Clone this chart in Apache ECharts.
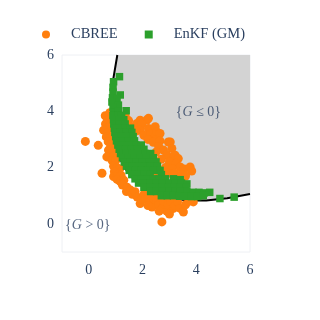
<!DOCTYPE html>
<html>
<head>
<meta charset="utf-8">
<script src="https://cdn.jsdelivr.net/npm/echarts@6/dist/echarts.min.js"></script>
<style>
  html, body { margin: 0; padding: 0; background: #fff; }
  #chart { width: 320px; height: 320px; }
</style>
</head>
<body>
<div id="chart"></div>
<script>
// limit state curve G = 0
var limitCurve = [
  [1.06, 6.0], [0.91, 5.15], [0.83, 4.37], [0.83, 3.71], [0.91, 3.04],
  [1.08, 2.49], [1.31, 2.02], [1.63, 1.63], [2.02, 1.31], [2.49, 1.08],
  [3.04, 0.91], [3.71, 0.83], [4.37, 0.83], [5.15, 0.91], [6.0, 1.06]
]

// CBREE samples (orange circles)
var cbree = [
  // left arm / inside G > 0
  [0.61, 3.84], [0.78, 3.95], [0.70, 3.70], [0.62, 3.55], [0.80, 3.51], [0.73, 3.42],
  [0.55, 3.33], [0.68, 3.22], [0.65, 3.09], [0.80, 3.05], [0.72, 2.92], [0.82, 2.80],
  [0.73, 2.62], [0.90, 2.65], [0.80, 2.50], [0.67, 2.38], [0.92, 2.40], [0.86, 2.26],
  [1.00, 2.25], [0.92, 2.05], [1.05, 2.00], [1.15, 1.95], [0.95, 1.85], [0.92, 1.68],
  [1.08, 1.75], [1.20, 1.72], [1.05, 1.58], [1.17, 1.50], [1.30, 1.55], [1.25, 1.38],
  [1.42, 1.30], [1.40, 1.15], [1.55, 1.20], [1.62, 1.05], [1.72, 1.14], [1.80, 0.95],
  [-0.13, 2.93], [0.35, 2.79], [0.49, 1.80],
  // lower arm
  [1.91, 0.72], [1.95, 0.88], [2.05, 1.05], [2.10, 0.88], [2.22, 0.98], [2.25, 0.78],
  [2.35, 0.60], [2.42, 0.88], [2.53, 0.82], [2.60, 0.68], [2.65, 0.95], [2.75, 0.55],
  [2.80, 0.80], [2.90, 0.45], [2.95, 0.68], [3.05, 0.80], [3.15, 0.55], [3.21, 0.65],
  [3.30, 0.78], [3.40, 0.55], [3.52, 0.42], [3.60, 0.68], [3.72, 0.80], [3.89, 0.78],
  [2.20, 0.65], [2.62, 0.45], [3.00, 0.35], [2.72, 0.07],
  // outer side, inside G <= 0
  [1.35, 3.85], [1.48, 3.67], [1.66, 3.45], [1.79, 3.57], [1.91, 3.68], [2.16, 3.69],
  [2.22, 3.75], [1.97, 3.55], [2.22, 3.39], [2.47, 3.45], [1.91, 3.33], [1.75, 3.30],
  [2.05, 3.15], [2.30, 3.20], [2.47, 3.09], [2.53, 3.27], [2.65, 3.21], [2.20, 3.00],
  [2.40, 2.90], [2.65, 2.95], [2.96, 2.91], [3.03, 2.91], [2.60, 2.75], [2.78, 2.62],
  [3.09, 2.68], [2.50, 2.55], [2.90, 2.45], [3.15, 2.38], [3.21, 2.44], [3.33, 2.32],
  [2.70, 2.30], [3.00, 2.20], [3.25, 2.15], [3.40, 2.02], [2.85, 2.00], [3.10, 1.95],
  [3.55, 1.95], [3.77, 2.02], [3.83, 1.88], [2.95, 1.80], [3.20, 1.80], [3.45, 1.75],
  [3.60, 1.70], [2.53, 1.79]
]

// EnKF (GM) samples (green squares)
var enkf = [
  [1.14, 5.23], [0.92, 5.05], [0.90, 4.85], [0.90, 4.68], [1.17, 4.58], [0.88, 4.48],
  [1.05, 4.45], [0.86, 4.33], [1.10, 4.22], [0.90, 4.15], [0.92, 3.98], [1.10, 4.00], [1.39, 4.02],
  [0.90, 3.85], [1.10, 3.85], [1.22, 3.85],
  [0.92, 3.70], [1.12, 3.70], [1.30, 3.70],
  [0.93, 3.55], [1.13, 3.55], [1.35, 3.55],
  [0.95, 3.40], [1.15, 3.40], [1.35, 3.40], [1.55, 3.40],
  [0.97, 3.25], [1.17, 3.25], [1.40, 3.25], [1.60, 3.25],
  [1.00, 3.10], [1.20, 3.10], [1.42, 3.10], [1.65, 3.10],
  [1.03, 2.95], [1.25, 2.95], [1.47, 2.95], [1.70, 2.95],
  [1.08, 2.80], [1.30, 2.80], [1.52, 2.80], [1.75, 2.80], [1.95, 2.80],
  [1.13, 2.65], [1.35, 2.65], [1.57, 2.65], [1.80, 2.65], [2.05, 2.65],
  [1.18, 2.50], [1.40, 2.50], [1.62, 2.50], [1.85, 2.50], [2.10, 2.50], [2.30, 2.50],
  [1.25, 2.35], [1.47, 2.35], [1.70, 2.35], [1.92, 2.35], [2.15, 2.35], [2.40, 2.35],
  [1.32, 2.20], [1.55, 2.20], [1.77, 2.20], [2.00, 2.20], [2.25, 2.20], [2.50, 2.20],
  [1.40, 2.05], [1.62, 2.05], [1.85, 2.05], [2.08, 2.05], [2.30, 2.05], [2.55, 2.05],
  [1.50, 1.90], [1.72, 1.90], [1.95, 1.90], [2.18, 1.90], [2.40, 1.90], [2.65, 1.90],
  [1.60, 1.75], [1.82, 1.75], [2.05, 1.75], [2.28, 1.75], [2.70, 1.75],
  [1.72, 1.60], [1.95, 1.60], [2.18, 1.60], [2.40, 1.60], [2.62, 1.60], [2.85, 1.60], [3.15, 1.60], [3.40, 1.57],
  [1.85, 1.45], [2.08, 1.45], [2.30, 1.45], [2.52, 1.45], [2.75, 1.45], [2.98, 1.45], [3.20, 1.45], [3.45, 1.45], [3.65, 1.42],
  [2.05, 1.30], [2.28, 1.30], [2.50, 1.30], [2.72, 1.30], [2.95, 1.30], [3.18, 1.30], [3.40, 1.30], [3.62, 1.30],
  [2.30, 1.15], [2.52, 1.15], [2.75, 1.15], [2.98, 1.15], [3.20, 1.15], [3.42, 1.15], [3.65, 1.15], [3.88, 1.12], [4.10, 1.12], [4.30, 1.10], [4.50, 1.12],
  [2.70, 1.00], [2.92, 1.00], [3.15, 1.00], [3.38, 0.98], [3.60, 0.98], [3.82, 0.97], [4.05, 0.97], [4.26, 1.00],
  [4.88, 0.90], [5.41, 0.95]
]

var tickValues = [0, 2, 4, 6]
var regionLabels = ['{{i|G} ≤ 0}', '{{i|G} > 0}']
var regionLabelPos = [[4.08, 3.95], [-0.04, -0.05]]

var textColor = '#2a3f5f'
var serif = 'Liberation Serif'

var chart = echarts.init(document.getElementById('chart'), null, { renderer: 'canvas' })

chart.setOption({
  animation: false,
  backgroundColor: '#fff',
  textStyle: { fontFamily: serif },
  legend: {
    data: ['CBREE', 'EnKF (GM)'],
    left: 42,
    top: 27,
    padding: 0,
    itemWidth: 8,
    itemHeight: 8,
    itemGap: 27,
    textStyle: { fontFamily: serif, fontSize: 14.5, color: textColor, padding: [0, 0, 0, 16] }
  },
  grid: {
    left: 62, right: 70, top: 55, bottom: 68,
    show: true, borderColor: '#eef0f4', borderWidth: 1
  },
  xAxis: {
    type: 'value', min: -1, max: 6,
    axisLine: { show: false },
    axisTick: { show: false },
    splitLine: { show: false },
    axisLabel: { customValues: tickValues, margin: 11, color: textColor, fontFamily: serif, fontSize: 14 }
  },
  yAxis: {
    type: 'value', min: -1, max: 6,
    axisLine: { show: false },
    axisTick: { show: false },
    splitLine: { show: false },
    axisLabel: { customValues: tickValues, margin: 8, color: textColor, fontFamily: serif, fontSize: 14 }
  },
  series: [
    {
      // failure domain {G <= 0}
      type: 'custom',
      coordinateSystem: 'cartesian2d',
      silent: true,
      z: 1,
      data: [[6, 6]],
      renderItem: function (params, api) {
        var pts = limitCurve.concat([[6, 6]]).map(function (p) { return api.coord(p) })
        return { type: 'polygon', shape: { points: pts }, style: { fill: '#d3d3d3' } }
      }
    },
    {
      type: 'line',
      data: limitCurve,
      showSymbol: false,
      silent: true,
      z: 2,
      lineStyle: { color: '#000', width: 2 }
    },
    {
      name: 'CBREE',
      type: 'scatter',
      data: cbree,
      symbol: 'circle',
      symbolSize: 9,
      z: 3,
      itemStyle: { color: '#ff7f0e', opacity: 1 }
    },
    {
      name: 'EnKF (GM)',
      type: 'scatter',
      data: enkf,
      symbol: 'rect',
      symbolSize: 7.5,
      z: 4,
      itemStyle: { color: '#2ca02c', opacity: 1 }
    },
    {
      type: 'scatter',
      data: regionLabelPos,
      symbolSize: 1,
      silent: true,
      z: 5,
      itemStyle: { color: 'rgba(0,0,0,0)' },
      label: {
        show: true,
        position: 'inside',
        formatter: function (p) { return regionLabels[p.dataIndex] },
        color: textColor,
        fontFamily: serif,
        fontSize: 14,
        rich: {
          i: { fontStyle: 'italic', fontFamily: serif, fontSize: 14, color: textColor }
        }
      }
    }
  ]
})
</script>
</body>
</html>
